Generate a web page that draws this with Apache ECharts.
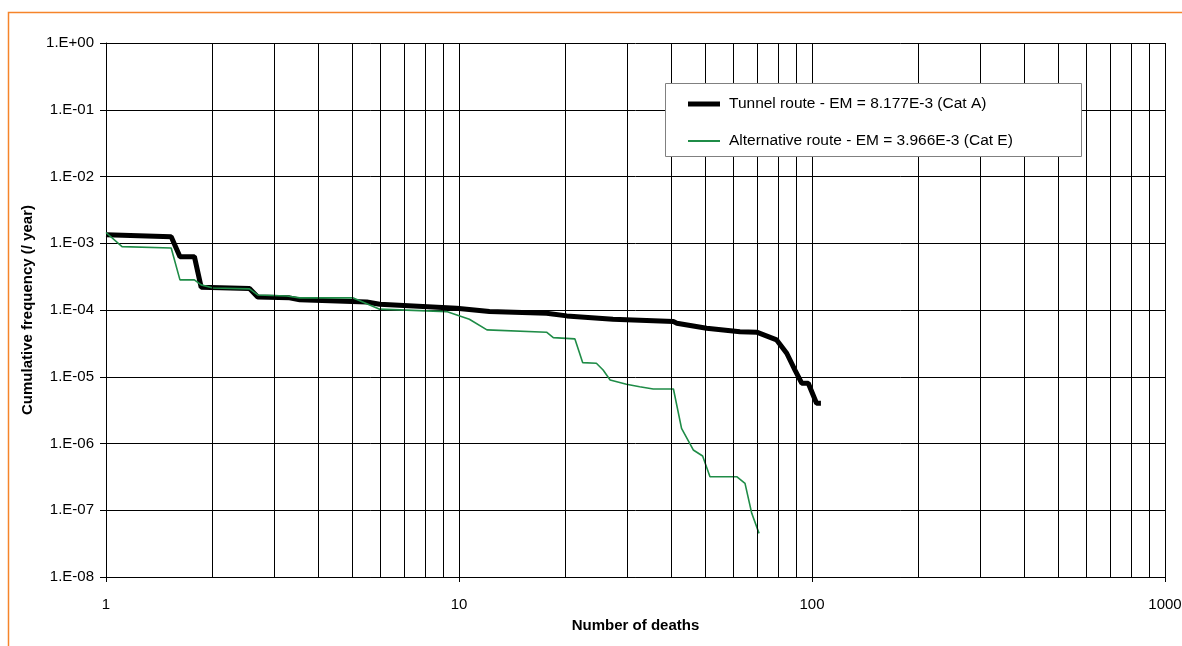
<!DOCTYPE html>
<html>
<head>
<meta charset="utf-8">
<script src="https://cdn.jsdelivr.net/npm/echarts@6/dist/echarts.min.js"></script>
<style>
  html, body { margin: 0; padding: 0; background: #fff; }
  #chart { width: 1182px; height: 646px; }
</style>
</head>
<body>
<div id="chart"></div>
<script>
// tunnel route (thick black)
const tunnelDeaths = [1.0, 1.53, 1.62, 1.78, 1.86, 2.55, 2.69, 3.31, 3.54, 5.48, 5.96, 9.84, 12.2, 17.7, 20.2, 27.3, 40.5, 41.4, 50.3, 62.5, 69.7, 79.4, 84.8, 89.5, 93.5, 97.6, 103, 106]
const tunnelFreq = [1.34e-3, 1.25e-3, 6.3e-4, 6.3e-4, 2.2e-4, 2.1e-4, 1.57e-4, 1.52e-4, 1.42e-4, 1.32e-4, 1.22e-4, 1.06e-4, 9.46e-5, 8.95e-5, 8.16e-5, 7.28e-5, 6.7e-5, 6.34e-5, 5.33e-5, 4.74e-5, 4.65e-5, 3.56e-5, 2.25e-5, 1.26e-5, 8.0e-6, 8.0e-6, 4.0e-6, 4.0e-6]

// alternative route (thin green)
const altDeaths = [1.0, 1.11, 1.53, 1.62, 1.78, 1.86, 2.01, 2.55, 2.69, 3.25, 3.54, 5.0, 5.96, 9.22, 10.7, 12.0, 17.7, 18.5, 21.3, 22.4, 24.5, 25.6, 26.8, 29.8, 32.5, 35.5, 40.5, 42.7, 46.1, 49.0, 51.4, 61.2, 64.6, 67.5, 70.8]
const altFreq = [1.45e-3, 8.9e-4, 8.5e-4, 2.83e-4, 2.83e-4, 2.38e-4, 2.14e-4, 2.07e-4, 1.68e-4, 1.62e-4, 1.52e-4, 1.52e-4, 1.03e-4, 9.46e-5, 7.28e-5, 5.03e-5, 4.65e-5, 3.86e-5, 3.69e-5, 1.63e-5, 1.59e-5, 1.26e-5, 8.95e-6, 7.72e-6, 7.1e-6, 6.56e-6, 6.56e-6, 1.69e-6, 8.0e-7, 6.5e-7, 3.18e-7, 3.18e-7, 2.53e-7, 9.0e-8, 4.5e-8]

// minor vertical gridlines (2..9 of each decade)
const minorTicks = [2, 3, 4, 5, 6, 7, 8, 9, 20, 30, 40, 50, 60, 70, 80, 90, 200, 300, 400, 500, 600, 700, 800, 900]

const tunnelName = 'Tunnel route - EM = 8.177E-3 (Cat A)'
const altName = 'Alternative route - EM = 3.966E-3 (Cat E)'

const FONT = 'Liberation Sans, Arial, sans-serif'
const chart = echarts.init(document.getElementById('chart'))

function pairs(xs, ys) { return xs.map((x, i) => [x, ys[i]]) }

function expLabel(v) {
  const e = Math.round(Math.log10(v))
  return '1.E' + (e < 0 ? '-' : '+') + String(Math.abs(e)).padStart(2, '0')
}

// one legend per entry so each keeps its own line thickness
function legendEntry(name, top, h) {
  return {
    orient: 'vertical', left: 688, top: top, z: 20,
    data: [name], icon: 'rect',
    itemWidth: 32, itemHeight: h,
    textStyle: { fontSize: 15.5, color: '#000', fontFamily: FONT, padding: [0, 0, 0, 4] },
    selectedMode: false, padding: 0
  }
}

chart.setOption({
  animation: false,
  backgroundColor: '#fff',
  textStyle: { fontFamily: FONT },
  graphic: [
    {
      type: 'rect', silent: true,
      shape: { x: 8.5, y: 12.5, width: 1300, height: 800 },
      style: { fill: 'none', stroke: '#f5842a', lineWidth: 1.5 }
    },
    {
      type: 'rect', silent: true, z: 15,
      shape: { x: 665.5, y: 83.5, width: 416, height: 73 },
      style: { fill: '#fff', stroke: '#808080', lineWidth: 1 }
    }
  ],
  grid: { left: 106, right: 17, top: 43, bottom: 69, outerBoundsMode: 'none' },
  legend: [
    legendEntry(tunnelName, 96, 5),
    legendEntry(altName, 133, 2)
  ],
  xAxis: {
    type: 'log', logBase: 10, min: 1, max: 1000, interval: 1,
    name: 'Number of deaths', nameLocation: 'middle', nameGap: 41,
    nameTextStyle: { fontSize: 15, fontWeight: 'bold', color: '#000' },
    axisLine: { lineStyle: { color: '#000', width: 1 } },
    axisTick: { show: true, length: 5, lineStyle: { color: '#000' } },
    axisLabel: { fontSize: 15, color: '#000', margin: 20, showMinLabel: true, showMaxLabel: true, formatter: v => String(v) },
    splitLine: { show: true, lineStyle: { color: '#000', width: 1 } }
  },
  yAxis: {
    type: 'log', logBase: 10, min: 1e-8, max: 1, interval: 1,
    name: 'Cumulative frequency (/ year)', nameLocation: 'middle', nameGap: 70,
    nameTextStyle: { fontSize: 15, fontWeight: 'bold', color: '#000' },
    axisLine: { show: true, lineStyle: { color: '#000', width: 1 } },
    axisTick: { show: true, length: 6, lineStyle: { color: '#000' } },
    axisLabel: { fontSize: 15, color: '#000', margin: 12, formatter: expLabel },
    splitLine: { show: true, lineStyle: { color: '#000', width: 1 } }
  },
  series: [
    {
      name: tunnelName, type: 'line',
      data: pairs(tunnelDeaths, tunnelFreq),
      showSymbol: false, symbol: 'none',
      lineStyle: { color: '#000', width: 5 },
      itemStyle: { color: '#000' },
      markLine: {
        silent: true, symbol: 'none', animation: false,
        label: { show: false },
        lineStyle: { color: '#000', width: 1, type: 'solid' },
        emphasis: { disabled: true },
        data: minorTicks.map(v => ({ xAxis: v }))
      },
      z: 3
    },
    {
      name: altName, type: 'line',
      data: pairs(altDeaths, altFreq),
      showSymbol: false, symbol: 'none',
      lineStyle: { color: '#1f8c47', width: 1.6 },
      itemStyle: { color: '#1f8c47' },
      z: 4
    }
  ]
})
</script>
</body>
</html>
